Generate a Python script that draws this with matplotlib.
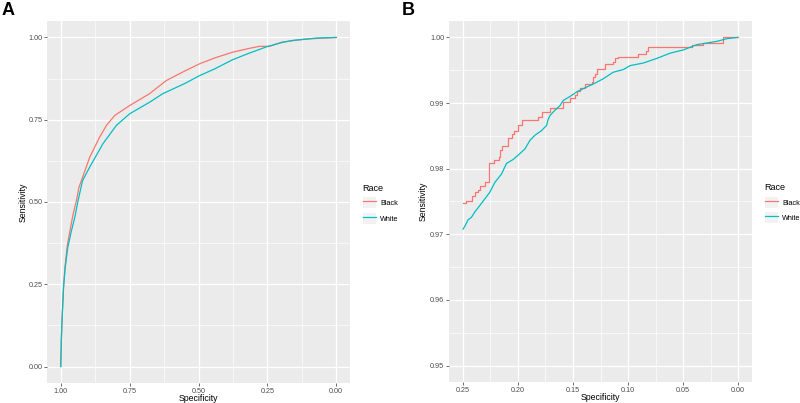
import matplotlib
matplotlib.use("Agg")
from matplotlib import pyplot as plt
from matplotlib.ticker import MultipleLocator
from matplotlib.lines import Line2D
from matplotlib.patches import Patch
from matplotlib.legend_handler import HandlerTuple

plt.rcParams["font.family"] = ["Liberation Sans", "DejaVu Sans"]

# panel A: full ROC curves (specificity, sensitivity)
spec_black_a = [1.0, 0.998, 0.995, 0.990, 0.985, 0.976, 0.965, 0.955, 0.943, 0.934, 0.925,
                0.895, 0.859, 0.834, 0.804, 0.75, 0.678, 0.617, 0.55, 0.496, 0.44, 0.377,
                0.32, 0.279, 0.243, 0.196, 0.15, 0.109, 0.05, 0.0]
sens_black_a = [0.0, 0.08, 0.15, 0.24, 0.30, 0.37, 0.42, 0.464, 0.505, 0.545, 0.565,
                0.636, 0.697, 0.733, 0.763, 0.793, 0.829, 0.869, 0.898, 0.920, 0.938, 0.955,
                0.966, 0.973, 0.973, 0.986, 0.991, 0.995, 0.998, 1.0]
spec_white_a = [1.0, 0.998, 0.995, 0.990, 0.984, 0.975, 0.962, 0.949, 0.937, 0.921, 0.895,
                0.847, 0.798, 0.75, 0.678, 0.630, 0.55, 0.496, 0.44, 0.377, 0.32, 0.255,
                0.20, 0.159, 0.074, 0.0]
sens_white_a = [0.0, 0.08, 0.15, 0.24, 0.30, 0.36, 0.41, 0.454, 0.505, 0.565, 0.606,
                0.677, 0.733, 0.768, 0.803, 0.829, 0.860, 0.884, 0.905, 0.932, 0.951, 0.971,
                0.984, 0.991, 0.998, 1.0]

# panel B: zoom on specificity <= 0.25
spec_black_b = [0.2497, 0.2473, 0.2415, 0.2385, 0.2361, 0.2345, 0.2294, 0.2261, 0.2215, 0.2170,
                0.2160, 0.2148, 0.2088, 0.2052, 0.2034, 0.1997, 0.1966, 0.1815, 0.1785, 0.1779,
                0.1709, 0.1588, 0.1527, 0.1482, 0.1466, 0.1436, 0.1391, 0.1330, 0.1315, 0.1300,
                0.1285, 0.1209, 0.1134, 0.1118, 0.1088, 0.0906, 0.0836, 0.0815, 0.0421, 0.0321,
                0.0136, 0.0]
sens_black_b = [0.9747, 0.9751, 0.9758, 0.9764, 0.9768, 0.9774, 0.9779, 0.9808, 0.9813, 0.9818,
                0.9828, 0.9834, 0.9847, 0.9853, 0.9858, 0.9866, 0.9874, 0.9879, 0.9881, 0.9886,
                0.9893, 0.9901, 0.9907, 0.9912, 0.9919, 0.9923, 0.9929, 0.9932, 0.9940, 0.9945,
                0.9952, 0.9960, 0.9962, 0.9968, 0.9970, 0.9974, 0.9980, 0.9985, 0.9989, 0.9992,
                1.0, 1.0]
spec_white_b = [0.2497, 0.2482, 0.2452, 0.2421, 0.2391, 0.2345, 0.2300, 0.2255, 0.2209, 0.2148,
                0.2103, 0.2043, 0.1982, 0.1936, 0.1891, 0.1845, 0.1785, 0.1739, 0.1727, 0.1709,
                0.1664, 0.1618, 0.1588, 0.1527, 0.1466, 0.1406, 0.1315, 0.1225, 0.1134, 0.1043,
                0.0982, 0.0861, 0.0739, 0.0618, 0.0497, 0.0375, 0.0194, 0.0103, 0.0006]
sens_white_b = [0.9708, 0.9712, 0.9722, 0.9726, 0.9734, 0.9744, 0.9754, 0.9764, 0.9779, 0.9792,
                0.9808, 0.9814, 0.9823, 0.9830, 0.9843, 0.9851, 0.9858, 0.9866, 0.9874, 0.9881,
                0.9889, 0.9896, 0.9904, 0.9910, 0.9917, 0.9922, 0.9929, 0.9937, 0.9947, 0.9951,
                0.9957, 0.9961, 0.9968, 0.9976, 0.9981, 0.9989, 0.9994, 0.9998, 1.0]

groups = ["Black", "White"]
colors = {"Black": "#F8766D", "White": "#00BFC4"}

fig = plt.figure(figsize=(8, 4.03), dpi=100)
ax_a = fig.add_axes([47 / 800, 1 - 383 / 403, 303 / 800, 362 / 403])
ax_b = fig.add_axes([449 / 800, 1 - 382 / 403, 303 / 800, 361 / 403])


def style(ax, xmaj, ymaj, ylab_x):
    ax.set_facecolor("#EBEBEB")
    for s in ax.spines.values():
        s.set_visible(False)
    ax.xaxis.set_major_locator(MultipleLocator(xmaj))
    ax.xaxis.set_minor_locator(MultipleLocator(xmaj / 2))
    ax.yaxis.set_major_locator(MultipleLocator(ymaj))
    ax.yaxis.set_minor_locator(MultipleLocator(ymaj / 2))
    ax.xaxis.set_major_formatter(lambda v, p: f"{v:.2f}")
    ax.yaxis.set_major_formatter(lambda v, p: f"{v:.2f}")
    ax.grid(which="major", color="white", lw=0.9)
    ax.grid(which="minor", color="white", lw=0.45)
    ax.set_axisbelow(True)
    ax.tick_params(which="major", length=2.2, width=0.5, color="#333333",
                   labelsize=5.2, labelcolor="#4D4D4D", pad=1.2)
    ax.tick_params(which="minor", length=0)
    ax.set_xlabel("Specificity", fontsize=6.3, va="center")
    ax.set_ylabel("Sensitivity", fontsize=6.3, va="center")
    h = ax.get_position().height * 403
    w = ax.get_position().width * 800
    ax.xaxis.set_label_coords(0.5, -15.5 / h)
    ax.yaxis.set_label_coords(-ylab_x / w, 0.5)
    handles = [(Patch(facecolor="#F2F2F2", edgecolor="none"),
                Line2D([], [], color=colors[g], lw=0.9)) for g in groups]
    ax.legend(handles, groups, title="Race", loc="center left", bbox_to_anchor=(1.0, 0.495),
              frameon=False, fontsize=5.2, title_fontsize=6.5, handlelength=1.8,
              handleheight=2.0, handletextpad=0.6, borderaxespad=1.75, labelspacing=0.6,
              borderpad=0.0, alignment="left",
              handler_map={tuple: HandlerTuple(ndivide=1, pad=0)})


# panel A
ax_a.plot(spec_black_a, sens_black_a, color=colors["Black"], lw=0.9)
ax_a.plot(spec_white_a, sens_white_a, color=colors["White"], lw=0.9)
ax_a.set_xlim(1.05, -0.05)
ax_a.set_ylim(-0.05, 1.05)
style(ax_a, 0.25, 0.25, 24)

# panel B
ax_b.plot(spec_black_b, sens_black_b, color=colors["Black"], lw=0.9, drawstyle="steps-post")
ax_b.plot(spec_white_b, sens_white_b, color=colors["White"], lw=0.9)
ax_b.set_xlim(0.2625, -0.0125)
ax_b.set_ylim(0.9475, 1.0025)
style(ax_b, 0.05, 0.01, 25.5)

fig.text(0.002, 0.995, "A", fontsize=13, fontweight="bold", va="top", ha="left")
fig.text(0.502, 0.995, "B", fontsize=13, fontweight="bold", va="top", ha="left")

fig.savefig("out.png", dpi=100)
